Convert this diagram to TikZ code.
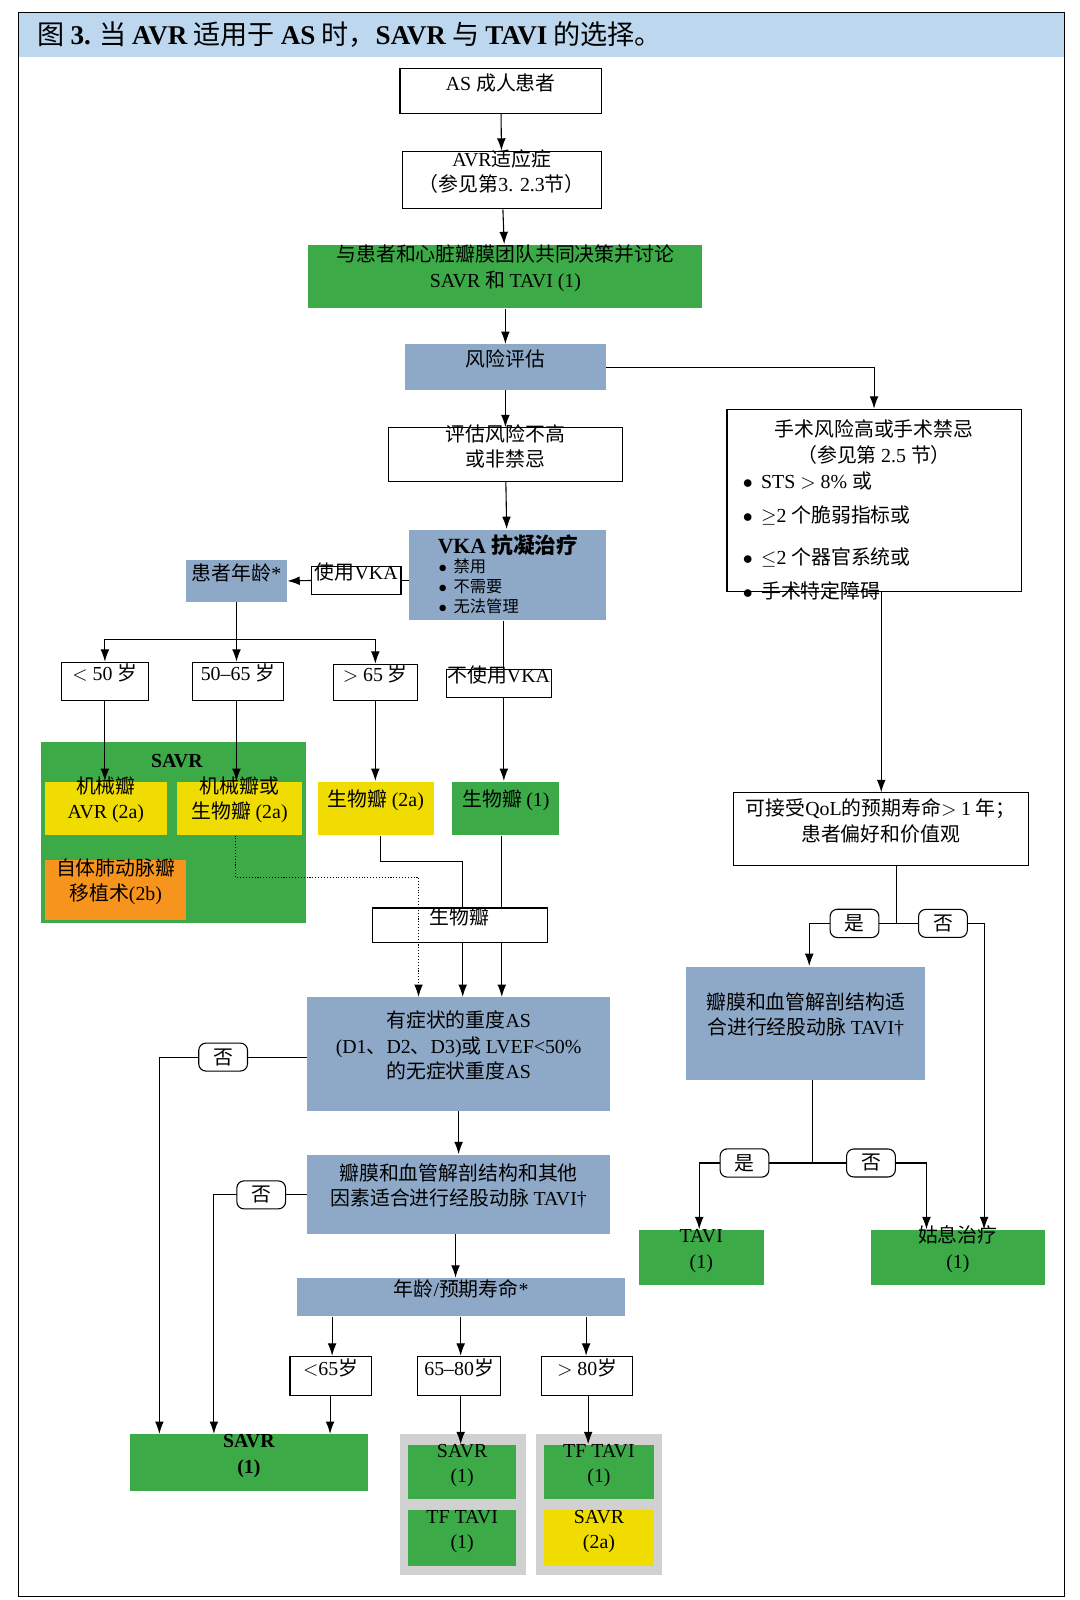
\documentclass[tikz,border=0pt]{standalone}
\usepackage{fontspec}
\setmainfont{Liberation Serif}
\newfontfamily\cjk{Noto Sans CJK SC}
\usetikzlibrary{arrows.meta, fit}
% switch to the CJK family for Chinese characters
\XeTeXinterchartokenstate=1
\newXeTeXintercharclass\CJKclass
\newcount\cc
\cc="3000 \loop\ifnum\cc<"3040 \XeTeXcharclass\cc=\CJKclass \advance\cc 1 \repeat
\cc="4E00 \loop\ifnum\cc<"A000 \XeTeXcharclass\cc=\CJKclass \advance\cc 1 \repeat
\cc="FF00 \loop\ifnum\cc<"FFF0 \XeTeXcharclass\cc=\CJKclass \advance\cc 1 \repeat
\XeTeXinterchartoks 0 \CJKclass={\cjk}
\XeTeXinterchartoks 4095 \CJKclass={\cjk}
\XeTeXinterchartoks \CJKclass 0={\rmfamily}
\XeTeXinterchartoks 4095 0={\rmfamily}
\definecolor{gbox}{HTML}{3DAA48}
\definecolor{bbox}{HTML}{8EA9C8}
\definecolor{ybox}{HTML}{F0DC00}
\definecolor{obox}{HTML}{F7941D}
\definecolor{band}{HTML}{BDD7EE}
\tikzset{
  base/.style={inner sep=0pt, align=center, font=\fontsize{11}{14}\selectfont},
  box/.style={base, draw, fill=white},
  green/.style={base, fill=gbox},
  blue/.style={base, fill=bbox},
  yellow/.style={base, fill=ybox},
  orange/.style={base, fill=obox},
  tag/.style={draw, fill=white, rounded corners=4pt, inner xsep=8pt, inner ysep=3pt, font=\fontsize{11}{13}\selectfont},
  line/.style={line width=0.6pt},
  >={Latex[length=2.4mm,width=1.7mm]}
}
\begin{document}
\begin{tikzpicture}[x=0.02cm, y=-0.02cm, line width=0.6pt]
  \useasboundingbox (0,0) rectangle (1050,1556);
  \fill[band] (18,12) rectangle (1035,55);
  \draw (18,12) rectangle (1035,1553);
  \node[anchor=west, font=\fontsize{15}{18}\selectfont] (title) at (30,34)
    {图 {\bfseries 3.} 当 {\bfseries AVR} 适用于 {\bfseries AS} 时，{\bfseries SAVR} 与 {\bfseries TAVI} 的选择。};

  % left column
  \node[box, fit={(389,67)(585,110)}] (adult) {AS 成人患者};
  \node[box, fit={(391,147)(585,203)}] (ind) {AVR适应症\\（参见第3. 2.3节）};
  \node[green, fit={(300,238)(683,300)}] (team) {与患者和心脏瓣膜团队共同决策并讨论\\SAVR 和 TAVI (1)};
  \node[blue, fit={(394,335)(589,379)}] (risk) {风险评估};
  \node[box, fit={(378,416)(605,468)}] (low) {评估风险不高\\或非禁忌};
  \node[blue, fit={(398,515)(589,603)}] (vka) {};
  \node[base, font=\fontsize{12}{14}\selectfont\bfseries] (vkat) at (494,530) {VKA 抗凝治疗};
  \node[base, anchor=north west, align=left, font=\fontsize{9}{11}\selectfont] (vkab) at (426,543)
    {$\bullet$\, 禁用\\$\bullet$\, 不需要\\$\bullet$\, 无法管理};
  \node[blue, fit={(181,545)(279,585)}] (age) {患者年龄*};
  \node[box, fit={(303,551)(390,578)}] (use) {使用VKA};
  \node[box, fit={(60,644)(144,681)}] (a50) {$<$ 50 岁};
  \node[box, fit={(187,644)(276,681)}] (a5065) {50–65 岁};
  \node[box, fit={(324,646)(406,681)}] (a65) {$>$ 65 岁};
  \node[box, fit={(434,651)(536,678)}] (nouse) {不使用VKA};

  \node[green, fit={(40,722)(298,898)}] (savrp) {};
  \node[base, font=\fontsize{11}{14}\selectfont\bfseries] (savrt) at (172,740) {SAVR};
  \node[yellow, fit={(44,760)(162,812)}] (mech) {机械瓣\\AVR (2a)};
  \node[yellow, fit={(172,760)(294,812)}] (mechbio) {机械瓣或\\生物瓣 (2a)};
  \node[orange, fit={(44,836)(181,895)}] (ross) {自体肺动脉瓣\\移植术(2b)};
  \node[yellow, fit={(309,760)(422,812)}] (bio2a) {生物瓣 (2a)};
  \node[green, fit={(440,760)(544,812)}] (bio1) {生物瓣 (1)};
  \node[box, fit={(362,883)(532,917)}] (bio) {生物瓣};

  \node[blue, fit={(299,970)(593,1080)}] (sev) {有症状的重度AS\\(D1、D2、D3)或 LVEF<50\%\\的无症状重度AS};
  \node[blue, fit={(299,1123)(593,1200)}] (anat) {瓣膜和血管解剖结构和其他\\因素适合进行经股动脉 TAVI†};
  \node[blue, fit={(289,1243)(608,1280)}] (life) {年龄/预期寿命*};
  \node[box, fit={(282,1319)(361,1357)}] (l65) {$<$65岁};
  \node[box, fit={(406,1319)(487,1357)}] (l6580) {65–80岁};
  \node[box, fit={(527,1319)(615,1357)}] (l80) {$>$ 80岁};
  \node[green, fit={(126,1395)(358,1450)}, font=\fontsize{11}{14}\selectfont\bfseries] (savr) {SAVR\\(1)};
  \node[base, fill=black!18, fit={(389,1395)(512,1532)}] (mid) {};
  \node[base, fill=black!18, fit={(521,1395)(644,1532)}] (old) {};
  \node[green, fit={(397,1405)(502,1458)}] (msavr) {SAVR\\(1)};
  \node[green, fit={(397,1468)(502,1523)}] (mtavi) {TF TAVI\\(1)};
  \node[green, fit={(529,1405)(636,1458)}] (otavi) {TF TAVI\\(1)};
  \node[yellow, fit={(529,1468)(636,1523)}] (osavr) {SAVR\\(2a)};

  % right column
  \node[box, fit={(707,398)(993,575)}] (high) {};
  \node[base] (hight) at (850,430) {手术风险高或手术禁忌\\（参见第 2.5 节）};
  \node[base, anchor=north west, align=left, font=\fontsize{11}{19}\selectfont] (highb) at (722,458)
    {$\bullet$\, STS $>$ 8\% 或\\$\bullet$\, $\geq$2 个脆弱指标或\\[4pt]$\bullet$\, $\leq$2 个器官系统或\\$\bullet$\, 手术特定障碍};
  \node[box, fit={(713,771)(1000,842)}] (qol) {可接受QoL的预期寿命$>$ 1 年；\\患者偏好和价值观};
  \node[blue, fit={(667,940)(900,1050)}] (anat2) {瓣膜和血管解剖结构适\\合进行经股动脉 TAVI†};
  \node[green, fit={(621,1196)(743,1250)}] (tavi) {TAVI\\(1)};
  \node[green, fit={(847,1196)(1016,1250)}] (pall) {姑息治疗\\(1)};

  % connectors
  \draw[->] (adult) -- (ind);
  \draw[->] (ind) -- (team);
  \draw[->] (team) -- (risk);
  \draw[->] (risk) -- (low);
  \draw[->] (low) -- (vka);
  \draw[->] (risk.east) -| (high.north);
  \draw (vka.west |- use) -- (use.east);
  \draw[->] (use.west) -- (age.east);
  \coordinate (split) at (age.south |- 0,622);
  \draw (age.south) -- (split);
  \draw[->] (split) -| (a50.north);
  \draw[->] (split) -- (a5065.north -| split);
  \draw[->] (split) -| (a65.north);
  \draw[->] (a50) -- (mech.north -| a50);
  \draw[->] (a5065.south -| split) -- (mechbio.north -| split);
  \draw[->] (a65.south -| 365,0) -- (bio2a.north -| 365,0);
  \draw (vka.south -| 490,0) -- (nouse.north -| 490,0);
  \draw[->] (nouse.south -| 490,0) -- (bio1.north -| 490,0);
  \draw (bio2a.south -| 370,0) |- (450,838) -- (bio.north -| 450,0);
  \draw (bio1.south -| 488,0) -- (bio.north -| 488,0);
  \draw[->] (bio.south -| 450,0) -- (sev.north -| 450,0);
  \draw[->] (bio.south -| 488,0) -- (sev.north -| 488,0);
  \draw[densely dotted, ->] (mechbio.south -| 229,0) |- (407,853) -- (sev.north -| 407,0);
  \draw[->] (sev.west |- 0,1028) -| (savr.north -| 155,0);
  \draw[->] (sev.south -| 446,0) -- (anat.north -| 446,0);
  \draw[->] (anat.west |- 0,1162) -| (savr.north -| 208,0);
  \draw[->] (anat.south -| 443,0) -- (life.north -| 443,0);
  \draw[->] (life.south -| 323,0) -- (l65.north -| 323,0);
  \draw[->] (life.south -| 448,0) -- (l6580.north -| 448,0);
  \draw[->] (life.south -| 570,0) -- (l80.north -| 570,0);
  \draw[->] (l65.south -| 321,0) -- (savr.north -| 321,0);
  \draw[->] (l6580.south -| 448,0) -- (msavr.north -| 448,0);
  \draw[->] (l80.south -| 572,0) -- (otavi.north -| 572,0);
  \draw[->] (high.south -| 857,0) -- (qol.north -| 857,0);
  \coordinate (qsplit) at (872,898);
  \draw (qol.south -| qsplit) -- (qsplit);
  \draw[->] (qsplit) -| (anat2.north -| 787,0);
  \draw[->] (qsplit) -| (pall.north -| 957,0);
  \coordinate (asplit) at (790,1131);
  \draw (anat2.south -| asplit) -- (asplit);
  \draw[->] (asplit) -| (tavi.north -| 680,0);
  \draw[->] (asplit) -| (pall.north -| 901,0);

  % yes / no tags
  \node[tag] (no1) at (217,1028) {否};
  \node[tag] (no2) at (254,1162) {否};
  \node[tag] (yes1) at (831,898) {是};
  \node[tag] (no3) at (917,898) {否};
  \node[tag] (yes2) at (724,1131) {是};
  \node[tag] (no4) at (847,1131) {否};
\end{tikzpicture}
\end{document}
